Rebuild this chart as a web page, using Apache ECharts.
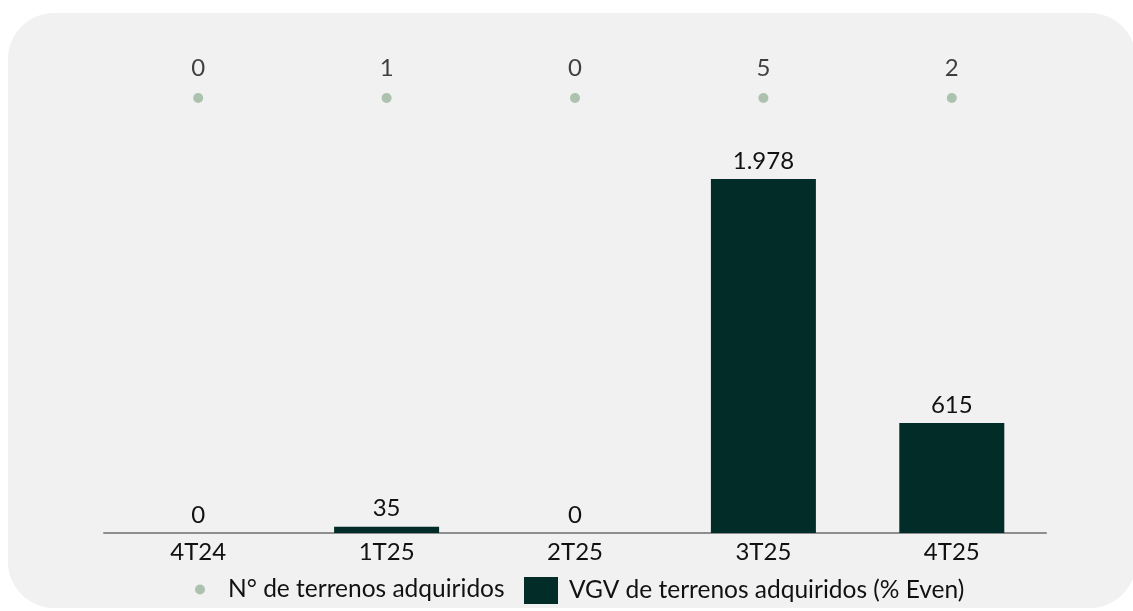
<!DOCTYPE html>
<html>
<head>
<meta charset="utf-8">
<script src="https://cdn.jsdelivr.net/npm/echarts@6/dist/echarts.min.js"></script>
<style>
  html, body { margin: 0; padding: 0; background: #fff; }
  #panel {
    position: absolute; left: 8px; top: 13px; width: 1128px; height: 595px;
    background: #f1f1f1; border-radius: 46px;
  }
  #chart { position: absolute; left: 0; top: 0; width: 1133px; height: 611px; }
</style>
</head>
<body>
<div id="panel"></div>
<div id="chart"></div>
<script>
const categories = ['4T24', '1T25', '2T25', '3T25', '4T25']
const vgvValues = [0, 35, 0, 1978, 615]
const landCounts = [0, 1, 0, 5, 2]
const countName = 'N° de terrenos adquiridos'
const vgvName = 'VGV de terrenos adquiridos (% Even)'

const font = 'Lato, "Noto Sans", sans-serif'
const textColor = '#111111'
const fontSize = 24

const chart = echarts.init(document.getElementById('chart'))
chart.setOption({
  backgroundColor: 'transparent',
  animation: false,
  textStyle: { fontFamily: font },
  grid: [
    { left: 104, right: 87, top: 150, height: 383 },
    { left: 104, right: 87, top: 90, height: 16 }
  ],
  xAxis: [{
    type: 'category',
    gridIndex: 0,
    data: categories,
    axisTick: { show: false },
    axisLine: { lineStyle: { color: '#8e8e8e', width: 2 } },
    axisLabel: { color: textColor, fontSize: fontSize, margin: 7, fontFamily: font }
  }, {
    type: 'category',
    gridIndex: 1,
    data: categories,
    show: false
  }],
  yAxis: [{
    type: 'value',
    gridIndex: 0,
    min: 0,
    max: 2140,
    show: false
  }, {
    type: 'category',
    gridIndex: 1,
    data: ['n'],
    show: false
  }],
  legend: [{
    data: [countName],
    left: 195,
    top: 577,
    padding: 0,
    icon: 'circle',
    itemWidth: 10,
    itemHeight: 27,
    textStyle: { color: textColor, fontSize: 24.5, fontFamily: font, padding: [0, 0, 0, 18] }
  }, {
    data: [vgvName],
    left: 524,
    top: 577,
    padding: 0,
    icon: 'rect',
    itemWidth: 34,
    itemHeight: 27,
    textStyle: { color: textColor, fontSize: 24.5, fontFamily: font, padding: [0, 0, 0, 6] }
  }],
  series: [{
    name: vgvName,
    type: 'bar',
    xAxisIndex: 0,
    yAxisIndex: 0,
    data: vgvValues,
    barWidth: 105,
    itemStyle: { color: '#022c27' },
    label: {
      show: true,
      position: 'top',
      distance: 6,
      color: textColor,
      fontSize: fontSize,
      fontFamily: font,
      formatter: (p) => p.value.toLocaleString('pt-BR')
    }
  }, {
    name: countName,
    type: 'scatter',
    xAxisIndex: 1,
    yAxisIndex: 1,
    data: landCounts.map((c, i) => [i, 0, c]),
    symbolSize: 10,
    itemStyle: { color: '#9bb69e' },
    label: {
      show: true,
      position: 'top',
      distance: 13,
      color: textColor,
      fontSize: fontSize,
      fontFamily: font,
      formatter: (p) => String(p.value[2])
    }
  }]
})
</script>
</body>
</html>
